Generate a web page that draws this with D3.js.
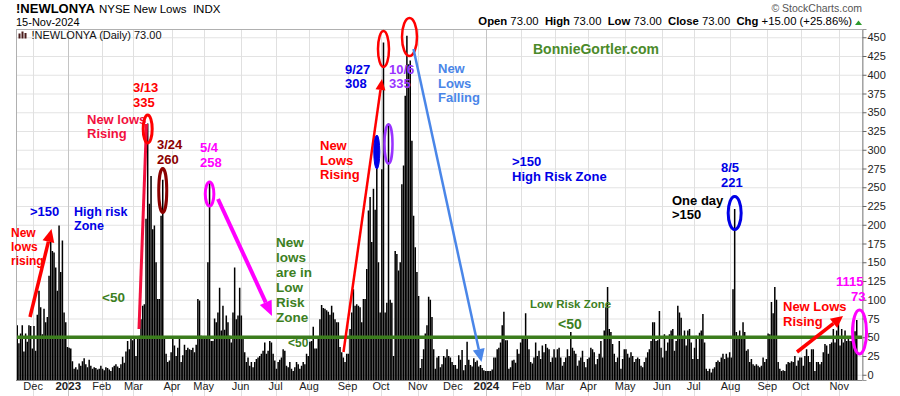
<!DOCTYPE html>
<html>
<head>
<meta charset="utf-8">
<script src="https://cdn.jsdelivr.net/npm/d3@7"></script>
<style>
  body { margin: 0; background: #fff; }
  svg { display: block; font-family: "Liberation Sans", Arial, sans-serif; }
</style>
</head>
<body>
<div id="chart"></div>
<script>
// NYSE new lows, daily
const nov22 = [66, 42, 55, 66, 31, 55, 44, 66, 65, 35];
const dec22 = [65, 32, 80, 112, 90, 54, 88, 70, 77, 132, 177, 165, 163, 143, 112, 199, 137, 179, 83, 70, 37];
const jan23 = [36, 35, 18, 8, 10, 7, 15, 12, 18, 22, 14, 10, 20, 12, 8, 10, 9, 7, 8, 12];
const feb23 = [8, 6, 10, 9, 7, 5, 10, 12, 14, 11, 9, 14, 24, 16, 31, 45, 34, 48, 46];
const mar23 = [48, 25, 50, 52, 74, 92, 94, 208, 335, 228, 265, 194, 199, 150, 101, 101, 212, 260, 48, 28, 17, 19, 30];
const apr23 = [48, 39, 25, 36, 48, 17, 26, 40, 33, 36, 34, 33, 36, 30, 40, 101, 99, 52, 50];
const may23 = [48, 50, 150, 258, 45, 45, 75, 70, 83, 116, 59, 92, 60, 79, 70, 52, 43, 83, 143, 74, 79, 116];
const jun23 = [79, 48, 30, 17, 23, 12, 17, 10, 17, 21, 23, 25, 28, 32, 43, 28, 32, 45, 43, 28, 19];
const jul23 = [8, 17, 20, 23, 34, 32, 12, 10, 17, 8, 5, 10, 17, 14, 8, 12, 17, 14, 28, 25];
const aug23 = [44, 45, 64, 35, 35, 48, 74, 93, 89, 88, 86, 84, 80, 92, 83, 74, 70, 70, 37, 30, 23, 17, 28];
const sep23 = [28, 61, 83, 114, 92, 94, 92, 90, 70, 101, 101, 141, 219, 237, 177, 248, 220, 308, 150, 83];
const oct23 = [274, 443, 83, 96, 335, 100, 96, 25, 165, 161, 139, 150, 254, 279, 372, 452, 414, 419, 312, 212, 170, 137];
const nov23 = [105, 9, 21, 34, 55, 66, 104, 100, 77, 34, 8, 23, 25, 10, 14, 25, 23, 34, 25, 23, 17];
const dec23 = [13, 13, 8, 26, 20, 33, 6, 13, 44, 20, 13, 11, 22, 17, 19, 11, 13, 9, 6, 5];
const jan24 = [5, 5, 5, 7, 23, 23, 34, 36, 43, 66, 84, 46, 46, 8, 10, 19, 20, 16, 34, 28, 43];
const feb24 = [48, 48, 82, 48, 34, 17, 15, 23, 43, 25, 32, 21, 39, 30, 41, 36, 34, 17, 23, 34];
const mar24 = [23, 34, 36, 23, 12, 17, 23, 34, 25, 57, 36, 32, 28, 12, 19, 23, 32, 17, 10, 21];
const apr24 = [23, 36, 34, 30, 14, 21, 28, 45, 23, 59, 90, 117, 61, 57, 41, 28, 17, 23, 45, 8, 21, 34];
const may24 = [34, 28, 23, 30, 25, 17, 21, 23, 21, 12, 10, 17, 23, 30, 34, 45, 70, 70, 45, 46, 85, 36];
const jun24 = [23, 54, 32, 43, 54, 59, 61, 32, 45, 92, 83, 76, 50, 59, 39, 59, 61, 43, 21];
const jul24 = [36, 52, 21, 56, 59, 81, 43, 8, 5, 8, 3, 8, 10, 17, 19, 17, 23, 28, 21, 28, 23, 30];
const aug24 = [23, 114, 221, 57, 52, 59, 48, 70, 57, 32, 34, 17, 21, 14, 12, 14, 12, 10, 12, 23, 17, 21];
const sep24 = [55, 54, 97, 82, 117, 100, 17, 8, 5, 6, 5, 14, 17, 16, 18, 17, 25, 12, 19, 23];
const oct24 = [23, 12, 25, 34, 25, 17, 34, 34, 5, 17, 17, 14, 17, 30, 41, 39, 28, 41, 43, 61, 43, 59, 68];
const nov24 = [39, 61, 43, 59, 45, 48, 45, 45, 70, 58, 73];

// market holidays in the range (no bar on these days)
const holidays = ["2022-11-24", "2022-12-26", "2023-01-02", "2023-01-16", "2023-02-20", "2023-04-07",
  "2023-05-29", "2023-06-19", "2023-07-04", "2023-09-04", "2023-11-23", "2023-12-25", "2024-01-01",
  "2024-01-15", "2024-02-19", "2024-03-29", "2024-05-27", "2024-06-19", "2024-07-04", "2024-09-02"];

const monthNames = ["Jan", "Feb", "Mar", "Apr", "May", "Jun", "Jul", "Aug", "Sep", "Oct", "Nov", "Dec"];
const yTicks = d3.range(0, 451, 25);
const zoneLevel = 50;

var values = [].concat(nov22, dec22, jan23, feb23, mar23, apr23, may23, jun23, jul23, aug23, sep23, oct23,
  nov23, dec23, jan24, feb24, mar24, apr24, may24, jun24, jul24, aug24, sep24, oct24, nov24);

// trading days 16-Nov-2022 .. 15-Nov-2024
var days = [];
for (var t = Date.UTC(2022, 10, 16); t <= Date.UTC(2024, 10, 15); t += 864e5) {
  var dt = new Date(t), wd = dt.getUTCDay(), iso = dt.toISOString().slice(0, 10);
  if (wd === 0 || wd === 6 || holidays.includes(iso)) continue;
  days.push(iso);
}
if (days.length !== values.length) console.warn("days", days.length, "values", values.length);

var data = days.map((d, i) => ({ date: d, value: values[i] })).filter(d => d.value != null);

var width = 900, height = 396;
var plot = { left: 16, right: 862, top: 29, bottom: 380 };

var svg = d3.select("#chart").append("svg")
  .attr("width", width)
  .attr("height", height);

var x = d3.scaleBand()
  .domain(days)
  .range([16.5, 857.5])
  .paddingInner(0.1);

var y = d3.scaleLinear()
  .domain([-7, 461])
  .range([plot.bottom, plot.top]);

var bw = x.bandwidth(), step = x.step();
var cx = d => x(d) + bw / 2;

// month starts
var months = [];
days.forEach((d, i) => {
  if (i === 0 || d.slice(0, 7) !== days[i - 1].slice(0, 7)) {
    var m = +d.slice(5, 7) - 1;
    months.push({ date: d, label: m === 0 ? d.slice(0, 4) : monthNames[m], year: m === 0, first: i === 0 });
  }
});
months = months.filter(m => !m.first);

// grid
svg.append("g")
  .selectAll("line")
  .data(yTicks)
  .enter().append("line")
    .attr("x1", plot.left).attr("x2", plot.right)
    .attr("y1", d => y(d) + 0.5).attr("y2", d => y(d) + 0.5)
    .attr("stroke", "#e3e3e3");

svg.append("g")
  .selectAll("line")
  .data(months)
  .enter().append("line")
    .attr("x1", d => Math.round(x(d.date) - (step - bw) / 2) + 0.5)
    .attr("x2", d => Math.round(x(d.date) - (step - bw) / 2) + 0.5)
    .attr("y1", plot.top).attr("y2", height)
    .attr("stroke", d => d.year ? "#c4c4c4" : "#e0e0e0");

// bars
svg.append("g")
  .selectAll("rect")
  .data(data)
  .enter().append("rect")
    .attr("x", d => x(d.date))
    .attr("y", d => y(d.value))
    .attr("width", bw)
    .attr("height", d => plot.bottom - y(d.value))
    .attr("fill", "#000");

// 50 line
svg.append("line")
  .attr("x1", plot.left).attr("x2", plot.right)
  .attr("y1", y(zoneLevel)).attr("y2", y(zoneLevel))
  .attr("stroke", "#3b7d1d")
  .attr("stroke-width", 3.5);

// frame
svg.append("rect")
  .attr("x", plot.left + 0.5).attr("y", plot.top + 0.5)
  .attr("width", plot.right - plot.left).attr("height", plot.bottom - plot.top)
  .attr("fill", "none").attr("stroke", "#b0b0b0");
svg.append("line")
  .attr("x1", plot.left).attr("x2", plot.right)
  .attr("y1", plot.bottom + 0.5).attr("y2", plot.bottom + 0.5)
  .attr("stroke", "#888");

// right axis
var yAxis = svg.append("g")
  .attr("transform", "translate(" + (plot.right + 0.5) + ",0)")
  .call(d3.axisRight(y).tickValues(yTicks).tickSize(4).tickPadding(1));
yAxis.select(".domain").attr("stroke", "#999");
yAxis.selectAll(".tick line").attr("stroke", "#666");
yAxis.selectAll("text")
  .attr("font-family", "Liberation Sans, Arial, sans-serif")
  .attr("font-size", 11).attr("fill", "#222");

// month labels
svg.append("g")
  .selectAll("text")
  .data(months)
  .enter().append("text")
    .attr("x", d => x(d.date) - (step - bw) / 2)
    .attr("y", 390)
    .attr("text-anchor", "middle")
    .attr("font-size", d => d.year ? 11.5 : 11)
    .attr("font-weight", d => d.year ? "bold" : "normal")
    .attr("fill", "#222")
    .text(d => d.label);

// header
var title = svg.append("text").attr("x", 16).attr("y", 13)
  .attr("font-size", 13).attr("font-weight", "bold").text("!NEWLONYA");
var titleEnd = 16 + title.node().getComputedTextLength();
svg.append("text").attr("x", titleEnd + 4).attr("y", 13)
  .attr("font-size", 11.5).attr("xml:space", "preserve").text("NYSE New Lows  INDX");
svg.append("text").attr("x", 16).attr("y", 26)
  .attr("font-size", 11).text("15-Nov-2024");
svg.append("text").attr("x", 862).attr("y", 12)
  .attr("text-anchor", "end").attr("font-size", 10.5).attr("fill", "#555").text("\u00A9 StockCharts.com");

var ohlc = svg.append("text").attr("x", 852).attr("y", 25)
  .attr("text-anchor", "end").attr("font-size", 11.3).attr("fill", "#000");
[["Open", " 73.00  "], ["High", " 73.00  "], ["Low", " 73.00  "], ["Close", " 73.00  "], ["Chg", " +15.00 (+25.86%)"]]
  .forEach(p => {
    ohlc.append("tspan").attr("font-weight", "bold").text(p[0]);
    ohlc.append("tspan").attr("xml:space", "preserve").text(p[1]);
  });
svg.append("path").attr("d", "M855,25 L858.5,20.5 L862,25 Z").attr("fill", "#2c9a2c");

// legend
svg.append("g").selectAll("rect")
  .data([[18.5, 5], [21.5, 7], [24.5, 5.5]])
  .enter().append("rect")
    .attr("x", d => d[0]).attr("y", d => 38.5 - d[1])
    .attr("width", 2).attr("height", d => d[1])
    .attr("fill", "#4a1c1c");
svg.append("text").attr("x", 31.5).attr("y", 38.5)
  .attr("font-size", 11).attr("fill", "#111").text("!NEWLONYA (Daily) 73.00");

// ---- annotations ----
function label(x0, y0, lines, color, size, lh, anchor) {
  var tx = svg.append("text")
    .attr("font-size", size).attr("font-weight", "bold")
    .attr("fill", color).attr("text-anchor", anchor || "start");
  lines.forEach((l, i) => {
    tx.append("tspan").attr("x", x0).attr("y", y0 + i * lh).text(l);
  });
}

function arrow(x1, y1, x2, y2, color, w, hl, hw) {
  var a = Math.atan2(y2 - y1, x2 - x1);
  var bx = x2 - hl * Math.cos(a), by = y2 - hl * Math.sin(a);
  svg.append("line")
    .attr("x1", x1).attr("y1", y1).attr("x2", bx).attr("y2", by)
    .attr("stroke", color).attr("stroke-width", w);
  var px = Math.sin(a) * hw / 2, py = -Math.cos(a) * hw / 2;
  svg.append("path")
    .attr("d", `M${x2},${y2}L${bx + px},${by + py}L${bx - px},${by - py}Z`)
    .attr("fill", color);
}

function ring(x0, y0, rx, ry, color, w, filled) {
  svg.append("ellipse")
    .attr("cx", x0).attr("cy", y0).attr("rx", rx).attr("ry", ry)
    .attr("fill", filled ? color : "none")
    .attr("stroke", color).attr("stroke-width", w);
}

var red = "#ff0000", pinkRed = "#f2103e", darkRed = "#8b0000", magenta = "#ff00ff",
  blue = "#0000e6", purple = "#9933ff", skyBlue = "#4a86e8", green = "#3d7f1f";

svg.append("text").attr("x", 533).attr("y", 54)
  .attr("font-size", 14).attr("font-weight", "bold").attr("fill", "#4b8a2a").text("BonnieGortler.com");

// left: Nov-Dec 2022
label(11, 237, ["New", "lows", "rising"], red, 12, 14);
arrow(30, 317, 51.5, 229, red, 3.5, 13, 12);
label(30, 216, [">150"], blue, 13, 14);
label(74, 216, ["High risk", "Zone"], blue, 12.5, 14);
label(102, 302, ["<50"], green, 13.5, 14);

// March 2023
label(87, 124, ["New lows", "Rising"], pinkRed, 13, 14);
svg.append("line").attr("x1", 139).attr("y1", 329).attr("x2", 146.5).attr("y2", 124)
  .attr("stroke", pinkRed).attr("stroke-width", 3);
ring(cx("2023-03-13"), 129, 4.5, 14, red, 3);
label(133, 92, ["3/13", "335"], red, 13, 15);
ring(cx("2023-03-24"), 190.5, 4, 22, darkRed, 3);
label(157, 149, ["3/24", "260"], darkRed, 13, 15);

// May 2023
ring(cx("2023-05-04"), 194, 4.3, 12, magenta, 3);
label(200, 152, ["5/4", "258"], magenta, 13, 15);
arrow(218, 199, 272, 316, magenta, 4, 15, 13);
label(276, 247, ["New", "lows", "are in", "Low", "Risk", "Zone"], green, 13.5, 15);
label(288, 347, ["<50"], green, 12, 14);

// Sep-Oct 2023
label(320, 150, ["New", "Lows", "Rising"], red, 13, 14.5);
arrow(343.5, 352, 382, 79, red, 2.5, 11, 10);
ring(cx("2023-10-03"), 49, 5.5, 18, red, 2.5);
ring(409.5, 37, 7.5, 19, red, 2.5);
ring(cx("2023-09-27"), 152, 3, 17, blue, 1, true);
ring(cx("2023-10-06"), 144, 4, 19.5, purple, 2.5);
label(345, 74, ["9/27", "308"], blue, 13, 13.5);
label(389, 74, ["10/6", "335"], purple, 13, 13.5);
arrow(413.5, 49, 481.5, 362, skyBlue, 2.5, 13, 12);
label(438, 73, ["New", "Lows", "Falling"], skyBlue, 13, 14.5);

// 2024
label(512, 165.5, [">150", "High Risk Zone"], blue, 13, 15);
label(530, 308, ["Low Risk Zone"], green, 11.5, 14);
label(558, 329, ["<50"], green, 14, 14);
label(672, 205, ["One day", ">150"], "#000", 13, 14);
ring(cx("2024-08-05"), 213, 6.5, 16.5, blue, 3);
label(721, 172, ["8/5", "221"], blue, 13, 15);
label(783, 311, ["New Lows", "Rising"], red, 13, 14.5);
arrow(797, 352, 843, 316, red, 3.5, 12, 12);
ring(859.5, 332, 7, 22, magenta, 3);
label(836, 286, ["1115"], magenta, 13, 14);
label(851, 300.5, ["73"], magenta, 13, 14);
</script>
</body>
</html>
